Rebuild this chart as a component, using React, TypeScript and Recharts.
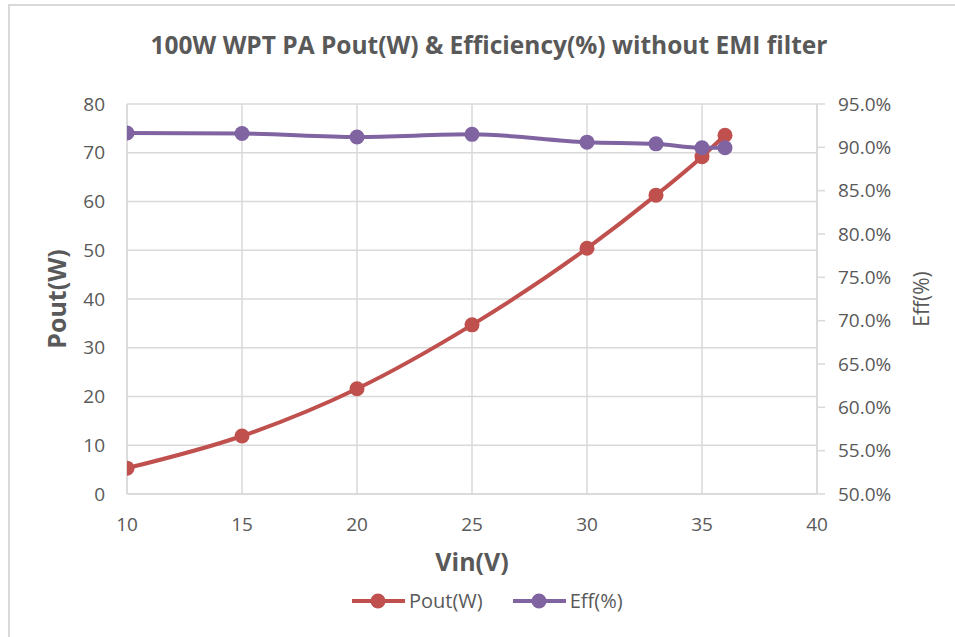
import React from 'react';
import { LineChart, Line, XAxis, YAxis, CartesianGrid, Label } from 'recharts';

const vin = [10, 15, 20, 25, 30, 33, 35, 36];
const pout = [5.3, 11.9, 21.6, 34.7, 50.4, 61.3, 69.2, 73.6];
const eff = [91.65, 91.6, 91.2, 91.5, 90.6, 90.4, 89.95, 89.95];
const xTicks = [10, 15, 20, 25, 30, 35, 40];
const leftTicks = [0, 10, 20, 30, 40, 50, 60, 70, 80];
const rightTicks = [50, 55, 60, 65, 70, 75, 80, 85, 90, 95];

const title = '100W WPT PA Pout(W) & Efficiency(%) without EMI filter';
const RED = '#C0504D';
const PURPLE = '#8064A2';
const GRID = '#D9D9D9';
const TXT = '#595959';
const FONT = '"Open Sans", "Liberation Sans", sans-serif';

const data = vin.map((v, i) => ({ vin: v, pout: pout[i], eff: eff[i] }));

const legendItems = [
  { name: 'Pout(W)', color: RED },
  { name: 'Eff(%)', color: PURPLE },
];

export default function App() {
  return (
    <div style={{ position: 'absolute', left: 0, top: 0, width: 955, height: 637, background: '#fff', overflow: 'hidden' }}>
      <div style={{ position: 'absolute', left: 8, top: 4, width: 1000, height: 700, borderLeft: '2px solid #D9D9D9', borderTop: '2px solid #D9D9D9', boxSizing: 'border-box' }} />
      <svg style={{ position: 'absolute', left: 0, top: 0 }} width={955} height={80}>
        <text x={489} y={54} textAnchor="middle" fontFamily={FONT} fontWeight={700} fontSize={24.5} fill={TXT}>{title}</text>
      </svg>
      <div style={{ position: 'absolute', left: 0, top: 0 }}>
        <LineChart width={955} height={637} data={data} margin={{ top: 104, right: 0, bottom: 0, left: 0 }}>
          <CartesianGrid stroke={GRID} strokeWidth={1.5} yAxisId="left" horizontal vertical />
          <XAxis
            dataKey="vin"
            type="number"
            domain={[10, 40]}
            ticks={xTicks}
            allowDataOverflow
            height={143}
            tickLine={false}
            tickMargin={18}
            stroke={GRID}
            strokeWidth={1.5}
            tick={{ fill: TXT, fontSize: 19, fontFamily: FONT }}
          >
            <Label value="Vin(V)" position="insideTop" offset={59} style={{ fill: TXT, fontSize: 25, fontWeight: 700, fontFamily: FONT }} />
          </XAxis>
          <YAxis
            yAxisId="left"
            orientation="left"
            domain={[0, 80]}
            ticks={leftTicks}
            width={127}
            tickLine={false}
            tickMargin={16}
            stroke={GRID}
            strokeWidth={1.5}
            tick={{ fill: TXT, fontSize: 19, fontFamily: FONT }}
          >
            <Label value="Pout(W)" angle={-90} position="insideLeft" offset={57} style={{ fill: TXT, fontSize: 25, fontWeight: 700, fontFamily: FONT, textAnchor: 'middle' }} />
          </YAxis>
          <YAxis
            yAxisId="right"
            orientation="right"
            domain={[50, 95]}
            ticks={rightTicks}
            width={138}
            tickSize={8}
            tickMargin={13}
            stroke={GRID}
            strokeWidth={1.5}
            tickFormatter={(v: number) => v.toFixed(1) + '%'}
            tick={{ fill: TXT, fontSize: 19, fontFamily: FONT }}
          >
            <Label value="Eff(%)" angle={-90} position="insideRight" offset={33} style={{ fill: TXT, fontSize: 21, fontFamily: FONT, textAnchor: 'middle' }} />
          </YAxis>
          <Line
            yAxisId="left"
            type="monotone"
            dataKey="pout"
            name="Pout(W)"
            stroke={RED}
            strokeWidth={4}
            dot={{ r: 7.5, fill: RED, stroke: RED, strokeWidth: 0 }}
            activeDot={false}
            isAnimationActive={false}
          />
          <Line
            yAxisId="right"
            type="monotone"
            dataKey="eff"
            name="Eff(%)"
            stroke={PURPLE}
            strokeWidth={4}
            dot={{ r: 7.5, fill: PURPLE, stroke: PURPLE, strokeWidth: 0 }}
            activeDot={false}
            isAnimationActive={false}
          />
        </LineChart>
      </div>
      <div style={{ position: 'absolute', left: 350, top: 588, display: 'flex', alignItems: 'center', fontFamily: FONT, fontSize: 20, color: TXT, lineHeight: '26px' }}>
        {legendItems.map((it) => (
          <div key={it.name} style={{ display: 'flex', alignItems: 'center', marginRight: 28 }}>
            <svg width={56} height={18} style={{ marginRight: 3 }}>
              <line x1={2} y1={9} x2={55} y2={9} stroke={it.color} strokeWidth={4} />
              <circle cx={28} cy={9} r={7.5} fill={it.color} />
            </svg>
            <span>{it.name}</span>
          </div>
        ))}
      </div>
    </div>
  );
}
